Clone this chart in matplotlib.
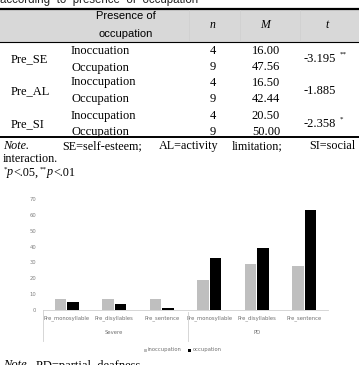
import matplotlib
matplotlib.use("Agg")
import matplotlib.pyplot as plt
import numpy as np

W, H = 359, 365

# table data
variables = ["Pre_SE", "Pre_AL", "Pre_SI"]
groups = ["Inoccuation", "Occupation", "Inoccupation", "Occupation", "Inoccupation", "Occupation"]
n_vals = ["4", "9", "4", "9", "4", "9"]
m_vals = ["16.00", "47.56", "16.50", "42.44", "20.50", "50.00"]
t_vals = ["-3.195", "-1.885", "-2.358"]
t_stars = ["**", "", "*"]

# chart data
categories = ["Pre_monosyllable", "Pre_disyllables", "Pre_sentence",
              "Pre_monosyllable", "Pre_disyllables", "Pre_sentence"]
group_labels = ["Severe", "PD"]
inoccupation = [7, 7, 7, 19, 29, 27.5]
occupation = [5.2, 3.5, 1.4, 32.8, 39, 63]
yticks = [0, 10, 20, 30, 40, 50, 60, 70]


def px(x, y):
    return x / W, 1 - y / H


fig = plt.figure(figsize=(W / 100, H / 100), dpi=100)
serif = "Liberation Serif"
sans = "Liberation Sans"

# caption remnant at top
fig.text(*px(0, 3.5), "according  to  presence  of  occupation", family=sans,
         fontsize=8.3, va="baseline", ha="left", color="#222222")

# header band and rules
fig.patches.append(plt.Rectangle(px(0, 42), 1, 33 / H, transform=fig.transFigure,
                                 facecolor="#d8d8d8", edgecolor="none", zorder=0))
fig.add_artist(plt.Line2D([0, 1], [px(0, 8.5)[1]] * 2, color="black", lw=1.6))
fig.add_artist(plt.Line2D([0, 1], [px(0, 42)[1]] * 2, color="black", lw=0.8))
fig.add_artist(plt.Line2D([0, 1], [px(0, 137.5)[1]] * 2, color="black", lw=1.4))
for xv in [189, 240, 300]:
    fig.add_artist(plt.Line2D([xv / W] * 2, [px(0, 10)[1], px(0, 41)[1]],
                              color="#cfcfcf", lw=0.5))

fig.text(*px(126, 16), "Presence of", family=sans, fontsize=8, ha="center", va="center")
fig.text(*px(126, 34), "occupation", family=sans, fontsize=8, ha="center", va="center")
fig.text(*px(213, 25), "n", family=serif, style="italic", fontsize=8.5, ha="center", va="center")
fig.text(*px(265, 25), "M", family=serif, style="italic", fontsize=8.5, ha="center", va="center")
fig.text(*px(327, 25), "t", family=serif, style="italic", fontsize=8.5, ha="center", va="center")

row_y = [51, 67.5, 82.5, 99, 116, 132]
for i, v in enumerate(variables):
    yc = (row_y[2 * i] + row_y[2 * i + 1]) / 2
    fig.text(*px(11, yc), v, family=serif, fontsize=9, ha="left", va="center")
    fig.text(*px(320, yc), t_vals[i], family=serif, fontsize=9, ha="center", va="center")
    if t_stars[i]:
        fig.text(*px(340, yc - 5), t_stars[i], family=serif, fontsize=5,
                 ha="left", va="center")
for j, g in enumerate(groups):
    fig.text(*px(71, row_y[j]), g, family=serif, fontsize=9, ha="left", va="center")
    fig.text(*px(213, row_y[j]), n_vals[j], family=serif, fontsize=9, ha="center", va="center")
    fig.text(*px(266, row_y[j]), m_vals[j], family=serif, fontsize=9, ha="center", va="center")

# notes
fs_note = 8.7
fig.text(*px(3, 146), "Note.", family=serif, style="italic", fontsize=fs_note, ha="left", va="center")
fig.text(*px(62, 146), "SE=self-esteem;", family=serif, fontsize=fs_note, ha="left", va="center")
fig.text(*px(159, 146), "AL=activity", family=serif, fontsize=fs_note, ha="left", va="center")
fig.text(*px(232, 146), "limitation;", family=serif, fontsize=fs_note, ha="left", va="center")
fig.text(*px(356, 146), "SI=social", family=serif, fontsize=fs_note, ha="right", va="center")
fig.text(*px(3, 159), "interaction.", family=serif, fontsize=fs_note, ha="left", va="center")
fig.text(*px(4, 169), "*", family=serif, fontsize=5, ha="left", va="center")
fig.text(*px(7, 172.5), "p", family=serif, style="italic", fontsize=fs_note, ha="left", va="center")
fig.text(*px(13, 172.5), "<.05,", family=serif, fontsize=fs_note, ha="left", va="center")
fig.text(*px(39.5, 169), "**", family=serif, fontsize=5, ha="left", va="center")
fig.text(*px(47, 172.5), "p", family=serif, style="italic", fontsize=fs_note, ha="left", va="center")
fig.text(*px(53, 172.5), "<.01", family=serif, fontsize=fs_note, ha="left", va="center")

# bar chart
ax = fig.add_axes([43 / W, (H - 310) / H, 285 / W, 111 / H])
x = np.arange(len(categories))
bw = 0.24
ax.bar(x - 0.135, inoccupation, bw, color="#bfbfbf")
ax.bar(x + 0.135, occupation, bw, color="black")
ax.set_xlim(-0.5, len(categories) - 0.5)
ax.set_ylim(0, 70)
ax.set_yticks(yticks)
ax.tick_params(axis="y", length=0, labelsize=3.8, labelcolor="#808080", pad=5)
ax.set_xticks(x)
ax.set_xticklabels(categories, fontsize=3.8, color="#707070")
ax.tick_params(axis="x", length=0, pad=4)
for s in ["top", "right", "left"]:
    ax.spines[s].set_visible(False)
ax.spines["bottom"].set_color("#d0d0d0")
ax.spines["bottom"].set_linewidth(0.6)

# group axis
for xv, y0 in [(43, 310), (188, 312)]:
    fig.add_artist(plt.Line2D([xv / W] * 2, [px(0, y0)[1], px(0, 341)[1]],
                              color="#d0d0d0", lw=0.6))
for k, gl in enumerate(group_labels):
    xc = ax.transData.transform((1 + 3 * k, 0))[0]
    fig.text(xc / fig.dpi / fig.get_figwidth(), px(0, 333)[1], gl, fontsize=3.8,
             color="#707070", ha="center", va="center")

# legend
fig.patches.append(plt.Rectangle(px(143.5, 351.5), 3 / W, 3 / H, transform=fig.transFigure,
                                 facecolor="#bfbfbf", edgecolor="none"))
fig.text(*px(148, 350), "inoccupation", fontsize=3.8, color="#707070", ha="left", va="center")
fig.patches.append(plt.Rectangle(px(188.5, 351.5), 3 / W, 3 / H, transform=fig.transFigure,
                                 facecolor="black", edgecolor="none"))
fig.text(*px(193, 350), "occupation", fontsize=3.8, color="#707070", ha="left", va="center")

# cut-off note at bottom
fig.text(*px(3, 359.5), "Note.", family=serif, style="italic", fontsize=9, ha="left", va="top")
fig.text(*px(36, 359.5), "PD=partial  deafness", family=serif, fontsize=9, ha="left", va="top")

fig.savefig("out.png", dpi=100)
